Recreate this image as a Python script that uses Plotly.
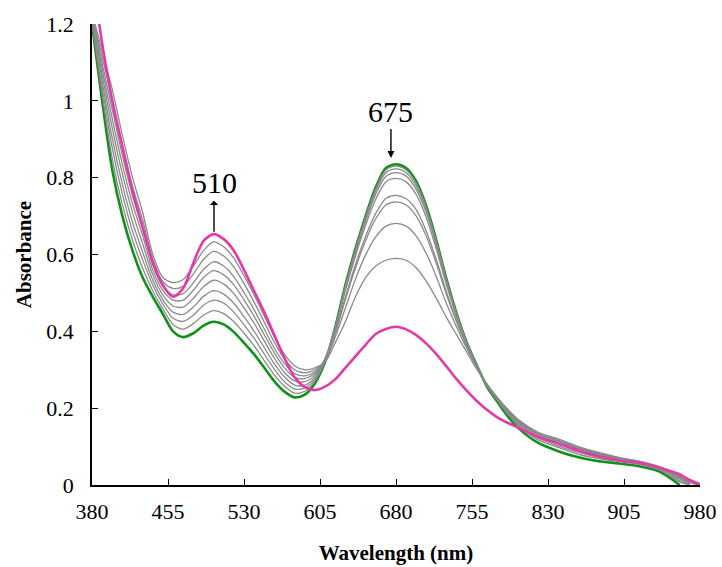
import plotly.graph_objects as go

wavelength = [380, 390, 400, 410, 420, 430, 440, 450, 460, 470, 480, 490, 500, 510, 520,
              530, 540, 550, 560, 570, 580, 590, 600, 610, 620, 630, 640, 650, 660, 670,
              680, 690, 700, 710, 720, 730, 740, 750, 760, 770, 780, 790, 800, 820, 840,
              860, 880, 900, 920, 940, 960, 970, 980]

green_start = [1.20, 1.00, 0.82, 0.70, 0.61, 0.54, 0.49, 0.445, 0.40, 0.385, 0.395, 0.415, 0.425, 0.418, 0.398,
               0.37, 0.34, 0.305, 0.27, 0.243, 0.228, 0.235, 0.265, 0.32, 0.41, 0.52, 0.615, 0.70, 0.775, 0.825,
               0.835, 0.825, 0.79, 0.725, 0.635, 0.534, 0.445, 0.37, 0.31, 0.255, 0.217, 0.18, 0.15, 0.11, 0.088,
               0.072, 0.062, 0.056, 0.049, 0.035, 0.0, None, None]

pink_end = [1.33, 1.15, 1.00, 0.88, 0.765, 0.67, 0.58, 0.52, 0.49, 0.512, 0.578, 0.635, 0.653, 0.64, 0.61,
            0.56, 0.505, 0.45, 0.39, 0.33, 0.28, 0.255, 0.247, 0.256, 0.275, 0.305, 0.335, 0.365, 0.393, 0.406,
            0.412, 0.405, 0.39, 0.368, 0.34, 0.308, 0.275, 0.245, 0.218, 0.195, 0.176, 0.162, 0.15, 0.125, 0.108,
            0.09, 0.075, 0.064, 0.058, 0.045, 0.028, 0.012, 0.0]

gray_1 = [1.204, 1.018, 0.849, 0.729, 0.637, 0.564, 0.505, 0.458, 0.418, 0.406, 0.420, 0.442, 0.454, 0.446, 0.425,
          0.395, 0.362, 0.324, 0.286, 0.257, 0.239, 0.244, 0.271, 0.322, 0.409, 0.518, 0.612, 0.697, 0.771, 0.820,
          0.830, 0.820, 0.785, 0.721, 0.632, 0.532, 0.444, 0.369, 0.310, 0.257, 0.220, 0.185, 0.157, 0.118, 0.098,
          0.080, 0.069, 0.061, 0.053, 0.039, 0.008, 0.0, None]
gray_2 = [1.208, 1.035, 0.877, 0.757, 0.661, 0.586, 0.520, 0.471, 0.434, 0.426, 0.442, 0.468, 0.481, 0.473, 0.450,
          0.417, 0.382, 0.341, 0.301, 0.269, 0.250, 0.253, 0.276, 0.325, 0.408, 0.515, 0.609, 0.692, 0.765, 0.813,
          0.823, 0.813, 0.778, 0.715, 0.628, 0.529, 0.442, 0.369, 0.310, 0.258, 0.222, 0.188, 0.160, 0.123, 0.102,
          0.085, 0.072, 0.063, 0.055, 0.041, 0.011, 0.0, None]
gray_3 = [1.212, 1.051, 0.902, 0.782, 0.684, 0.606, 0.533, 0.482, 0.450, 0.444, 0.463, 0.491, 0.506, 0.497, 0.473,
          0.438, 0.400, 0.358, 0.315, 0.281, 0.260, 0.260, 0.281, 0.328, 0.406, 0.511, 0.604, 0.686, 0.757, 0.803,
          0.813, 0.804, 0.769, 0.708, 0.622, 0.525, 0.440, 0.368, 0.309, 0.259, 0.224, 0.191, 0.163, 0.127, 0.107,
          0.089, 0.076, 0.066, 0.057, 0.043, 0.015, 0.002, None]
gray_4 = [1.216, 1.068, 0.929, 0.809, 0.709, 0.628, 0.547, 0.494, 0.466, 0.463, 0.486, 0.516, 0.533, 0.523, 0.498,
          0.461, 0.421, 0.375, 0.330, 0.293, 0.271, 0.269, 0.286, 0.330, 0.404, 0.506, 0.596, 0.676, 0.744, 0.789,
          0.798, 0.789, 0.756, 0.695, 0.612, 0.519, 0.437, 0.366, 0.309, 0.260, 0.225, 0.193, 0.165, 0.130, 0.110,
          0.092, 0.078, 0.067, 0.058, 0.044, 0.018, 0.004, None]
gray_5 = [1.219, 1.083, 0.954, 0.834, 0.732, 0.649, 0.560, 0.506, 0.481, 0.481, 0.507, 0.540, 0.558, 0.547, 0.521,
          0.482, 0.439, 0.391, 0.344, 0.305, 0.280, 0.277, 0.291, 0.328, 0.397, 0.489, 0.574, 0.647, 0.707, 0.746,
          0.754, 0.745, 0.716, 0.660, 0.585, 0.501, 0.427, 0.362, 0.307, 0.261, 0.226, 0.194, 0.168, 0.132, 0.114,
          0.094, 0.080, 0.069, 0.059, 0.045, 0.020, 0.006, 0.0]
gray_6 = [1.223, 1.098, 0.978, 0.858, 0.753, 0.668, 0.573, 0.516, 0.495, 0.498, 0.526, 0.561, 0.581, 0.570, 0.542,
          0.501, 0.456, 0.406, 0.356, 0.316, 0.290, 0.284, 0.295, 0.326, 0.394, 0.482, 0.565, 0.636, 0.693, 0.729,
          0.737, 0.729, 0.700, 0.647, 0.575, 0.494, 0.423, 0.360, 0.306, 0.261, 0.226, 0.195, 0.169, 0.134, 0.115,
          0.096, 0.082, 0.070, 0.060, 0.046, 0.021, 0.008, 0.0]
gray_7 = [1.226, 1.114, 1.005, 0.885, 0.777, 0.690, 0.587, 0.529, 0.512, 0.517, 0.549, 0.587, 0.608, 0.596, 0.567,
          0.524, 0.476, 0.424, 0.371, 0.328, 0.300, 0.292, 0.300, 0.323, 0.385, 0.460, 0.536, 0.599, 0.646, 0.674,
          0.681, 0.674, 0.648, 0.602, 0.541, 0.471, 0.410, 0.354, 0.304, 0.261, 0.227, 0.196, 0.170, 0.135, 0.117,
          0.097, 0.083, 0.070, 0.061, 0.047, 0.023, 0.010, 0.002]
gray_8 = [1.23, 1.13, 1.03, 0.91, 0.80, 0.71, 0.60, 0.54, 0.527, 0.535, 0.57, 0.61, 0.633, 0.62, 0.59,
          0.545, 0.495, 0.44, 0.385, 0.34, 0.31, 0.30, 0.305, 0.32, 0.37, 0.425, 0.49, 0.54, 0.57, 0.585,
          0.59, 0.585, 0.565, 0.53, 0.485, 0.435, 0.39, 0.345, 0.30, 0.262, 0.228, 0.198, 0.172, 0.138, 0.12,
          0.10, 0.085, 0.072, 0.062, 0.048, 0.025, 0.015, 0.005]

gray_series = [gray_1, gray_2, gray_3, gray_4, gray_5, gray_6, gray_7, gray_8]

x_ticks = [380, 455, 530, 605, 680, 755, 830, 905, 980]
y_ticks = [0, 0.2, 0.4, 0.6, 0.8, 1, 1.2]
y_tick_text = ["0", "0.2", "0.4", "0.6", "0.8", "1", "1.2"]

FONT = "Liberation Serif, Times New Roman, serif"
GREEN = "#11901a"
PINK = "#e23aa8"
GRAY = "#8a8a8a"

fig = go.Figure()
fig.add_trace(go.Scatter(x=wavelength, y=green_start, mode="lines",
                         line=dict(color=GREEN, width=2.6, shape="spline", smoothing=0.8),
                         showlegend=False, hoverinfo="skip"))
for s in gray_series:
    fig.add_trace(go.Scatter(x=wavelength, y=s, mode="lines",
                             line=dict(color=GRAY, width=1.3, shape="spline", smoothing=0.8),
                             showlegend=False, hoverinfo="skip"))
fig.add_trace(go.Scatter(x=wavelength, y=pink_end, mode="lines",
                         line=dict(color=PINK, width=2.6, shape="spline", smoothing=0.8),
                         showlegend=False, hoverinfo="skip"))

fig.add_annotation(x=500.4, y=0.659, text="510", showarrow=True, arrowside="start",
                   arrowhead=2, arrowsize=1, arrowwidth=1.4, arrowcolor="black",
                   ax=0, ay=-49, font=dict(family=FONT, size=30, color="black"))
fig.add_annotation(x=675, y=0.851, text="675", showarrow=True, arrowside="end",
                   arrowhead=2, arrowsize=1, arrowwidth=1.4, arrowcolor="black",
                   ax=0, ay=-47, font=dict(family=FONT, size=30, color="black"))

fig.update_layout(
    width=722, height=567,
    margin=dict(l=92, r=22, t=24, b=82, autoexpand=False),
    paper_bgcolor="white", plot_bgcolor="white",
    font=dict(family=FONT, size=22, color="black"),
)
fig.update_xaxes(range=[380, 980], tickvals=x_ticks, ticktext=[str(v) for v in x_ticks],
                 showline=True, linecolor="black", linewidth=1.5, mirror=False,
                 ticks="inside", ticklen=6, tickwidth=1.2, tickcolor="black",
                 showgrid=False, zeroline=False, ticklabelstandoff=6,
                 title=dict(text="<b>Wavelength (nm)</b>", font=dict(family=FONT, size=21), standoff=22))
fig.update_yaxes(range=[0, 1.2], tickvals=y_ticks, ticktext=y_tick_text,
                 showline=True, linecolor="black", linewidth=1.5, mirror=False,
                 ticks="inside", ticklen=6, tickwidth=1.2, tickcolor="black",
                 showgrid=False, zeroline=False, ticklabelstandoff=12,
                 title=dict(text="<b>Absorbance</b>", font=dict(family=FONT, size=21), standoff=9))

fig.write_html("out.html", config={"displayModeBar": False},
               post_script="document.body.style.margin='0';document.body.style.overflow='hidden';")
